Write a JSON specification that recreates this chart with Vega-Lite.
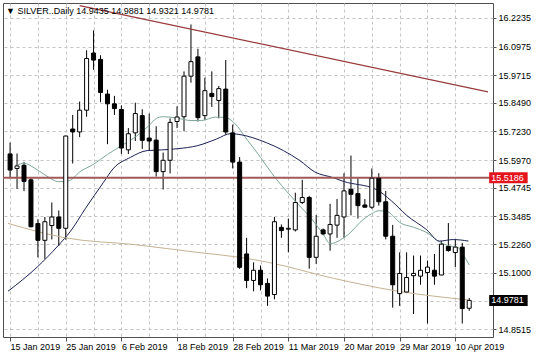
{
  "$schema": "https://vega.github.io/schema/vega-lite/v6.json",
  "width": 490,
  "height": 334,
  "autosize": {"type": "none"},
  "padding": {"left": 3, "top": 3, "right": 43, "bottom": 21},
  "background": "white",
  "config": {
    "view": {"stroke": "#505050", "strokeWidth": 1},
    "font": "Liberation Sans",
    "axis": {"labelFont": "Liberation Sans", "labelFontSize": 9, "labelColor": "#000000", "domain": false, "gridColor": "#c4c4c4", "gridDash": [3, 3], "gridWidth": 1, "tickColor": "#505050", "title": null, "labelOverlap": false, "labelBound": false, "labelFlush": false}
  },
  "title": {"text": "▼ SILVER..Daily  14.9435 14.9881 14.9321 14.9781", "anchor": "start", "frame": "group", "offset": -13, "dx": 3, "fontSize": 9, "fontWeight": "normal", "font": "Liberation Sans", "color": "#000000"},
  "datasets": {
    "bars": [
      {"i":0,"date":"2019-01-15","open":15.624,"high":15.674,"low":15.519,"close":15.553},
      {"i":1,"date":"2019-01-16","open":15.560,"high":15.626,"low":15.470,"close":15.571},
      {"i":2,"date":"2019-01-17","open":15.574,"high":15.589,"low":15.460,"close":15.503},
      {"i":3,"date":"2019-01-18","open":15.510,"high":15.517,"low":15.300,"close":15.303},
      {"i":4,"date":"2019-01-21","open":15.317,"high":15.336,"low":15.168,"close":15.243},
      {"i":5,"date":"2019-01-22","open":15.243,"high":15.346,"low":15.161,"close":15.325},
      {"i":6,"date":"2019-01-23","open":15.308,"high":15.410,"low":15.247,"close":15.346},
      {"i":7,"date":"2019-01-24","open":15.346,"high":15.375,"low":15.218,"close":15.296},
      {"i":8,"date":"2019-01-25","open":15.296,"high":15.705,"low":15.246,"close":15.703},
      {"i":9,"date":"2019-01-28","open":15.734,"high":15.796,"low":15.582,"close":15.721},
      {"i":10,"date":"2019-01-29","open":15.721,"high":15.855,"low":15.698,"close":15.817},
      {"i":11,"date":"2019-01-30","open":15.817,"high":16.081,"low":15.788,"close":16.045},
      {"i":12,"date":"2019-01-31","open":16.069,"high":16.169,"low":15.995,"close":16.038},
      {"i":13,"date":"2019-02-01","open":16.041,"high":16.059,"low":15.852,"close":15.895},
      {"i":14,"date":"2019-02-04","open":15.888,"high":15.907,"low":15.667,"close":15.845},
      {"i":15,"date":"2019-02-05","open":15.845,"high":15.880,"low":15.796,"close":15.824},
      {"i":16,"date":"2019-02-06","open":15.820,"high":15.838,"low":15.624,"close":15.650},
      {"i":17,"date":"2019-02-07","open":15.642,"high":15.738,"low":15.624,"close":15.713},
      {"i":18,"date":"2019-02-08","open":15.717,"high":15.850,"low":15.681,"close":15.802},
      {"i":19,"date":"2019-02-11","open":15.793,"high":15.821,"low":15.646,"close":15.684},
      {"i":20,"date":"2019-02-12","open":15.694,"high":15.802,"low":15.639,"close":15.681},
      {"i":21,"date":"2019-02-13","open":15.685,"high":15.746,"low":15.524,"close":15.546},
      {"i":22,"date":"2019-02-14","open":15.546,"high":15.630,"low":15.467,"close":15.596},
      {"i":23,"date":"2019-02-15","open":15.596,"high":15.781,"low":15.538,"close":15.763},
      {"i":24,"date":"2019-02-18","open":15.767,"high":15.834,"low":15.738,"close":15.787},
      {"i":25,"date":"2019-02-19","open":15.788,"high":15.988,"low":15.724,"close":15.967},
      {"i":26,"date":"2019-02-20","open":15.967,"high":16.195,"low":15.938,"close":16.031},
      {"i":27,"date":"2019-02-21","open":16.052,"high":16.088,"low":15.767,"close":15.784},
      {"i":28,"date":"2019-02-22","open":15.793,"high":15.960,"low":15.774,"close":15.903},
      {"i":29,"date":"2019-02-25","open":15.891,"high":15.988,"low":15.831,"close":15.877},
      {"i":30,"date":"2019-02-26","open":15.860,"high":15.924,"low":15.781,"close":15.912},
      {"i":31,"date":"2019-02-27","open":15.910,"high":16.038,"low":15.710,"close":15.721},
      {"i":32,"date":"2019-02-28","open":15.717,"high":15.753,"low":15.560,"close":15.588},
      {"i":33,"date":"2019-03-01","open":15.588,"high":15.610,"low":15.117,"close":15.124},
      {"i":34,"date":"2019-03-04","open":15.183,"high":15.254,"low":15.032,"close":15.066},
      {"i":35,"date":"2019-03-05","open":15.066,"high":15.146,"low":15.018,"close":15.111},
      {"i":36,"date":"2019-03-06","open":15.111,"high":15.132,"low":15.022,"close":15.047},
      {"i":37,"date":"2019-03-07","open":15.053,"high":15.075,"low":14.954,"close":14.997},
      {"i":38,"date":"2019-03-08","open":15.004,"high":15.346,"low":14.983,"close":15.325},
      {"i":39,"date":"2019-03-10","open":15.300,"high":15.313,"low":15.254,"close":15.286},
      {"i":40,"date":"2019-03-11","open":15.292,"high":15.339,"low":15.190,"close":15.296},
      {"i":41,"date":"2019-03-12","open":15.289,"high":15.453,"low":15.282,"close":15.410},
      {"i":42,"date":"2019-03-13","open":15.410,"high":15.510,"low":15.403,"close":15.432},
      {"i":43,"date":"2019-03-14","open":15.432,"high":15.439,"low":15.118,"close":15.168},
      {"i":44,"date":"2019-03-15","open":15.168,"high":15.354,"low":15.139,"close":15.261},
      {"i":45,"date":"2019-03-17","open":15.289,"high":15.295,"low":15.265,"close":15.271},
      {"i":46,"date":"2019-03-18","open":15.271,"high":15.404,"low":15.197,"close":15.313},
      {"i":47,"date":"2019-03-19","open":15.310,"high":15.425,"low":15.254,"close":15.353},
      {"i":48,"date":"2019-03-20","open":15.346,"high":15.539,"low":15.254,"close":15.461},
      {"i":49,"date":"2019-03-21","open":15.468,"high":15.617,"low":15.353,"close":15.446},
      {"i":50,"date":"2019-03-22","open":15.449,"high":15.517,"low":15.339,"close":15.396},
      {"i":51,"date":"2019-03-24","open":15.399,"high":15.425,"low":15.389,"close":15.389},
      {"i":52,"date":"2019-03-25","open":15.389,"high":15.560,"low":15.382,"close":15.517},
      {"i":53,"date":"2019-03-26","open":15.517,"high":15.539,"low":15.396,"close":15.413},
      {"i":54,"date":"2019-03-27","open":15.413,"high":15.461,"low":15.247,"close":15.261},
      {"i":55,"date":"2019-03-28","open":15.261,"high":15.311,"low":14.946,"close":15.047},
      {"i":56,"date":"2019-03-29","open":15.008,"high":15.190,"low":14.954,"close":15.097},
      {"i":57,"date":"2019-04-01","open":15.015,"high":15.190,"low":15.010,"close":15.079},
      {"i":58,"date":"2019-04-02","open":15.087,"high":15.176,"low":14.918,"close":15.097},
      {"i":59,"date":"2019-04-03","open":15.085,"high":15.176,"low":15.047,"close":15.111},
      {"i":60,"date":"2019-04-04","open":15.101,"high":15.154,"low":14.876,"close":15.125},
      {"i":61,"date":"2019-04-05","open":15.111,"high":15.183,"low":15.047,"close":15.085},
      {"i":62,"date":"2019-04-08","open":15.090,"high":15.240,"low":15.090,"close":15.226},
      {"i":63,"date":"2019-04-09","open":15.216,"high":15.319,"low":15.193,"close":15.198},
      {"i":64,"date":"2019-04-10","open":15.189,"high":15.247,"low":15.125,"close":15.213},
      {"i":65,"date":"2019-04-11","open":15.213,"high":15.232,"low":14.876,"close":14.942},
      {"i":66,"date":"2019-04-12","open":14.9435,"high":14.9881,"low":14.9321,"close":14.9781}
    ],
    "ma": [
      {"ma":"fast","i":1,"price":15.5745},{"ma":"fast","i":2,"price":15.5831},{"ma":"fast","i":3.5,"price":15.5617},{"ma":"fast","i":5,"price":15.5317},{"ma":"fast","i":7,"price":15.5018},{"ma":"fast","i":8.5,"price":15.5061},{"ma":"fast","i":10,"price":15.5446},{"ma":"fast","i":12,"price":15.5788},{"ma":"fast","i":14,"price":15.6216},{"ma":"fast","i":16,"price":15.6601},{"ma":"fast","i":18,"price":15.6986},{"ma":"fast","i":20,"price":15.7499},{"ma":"fast","i":21,"price":15.7799},{"ma":"fast","i":22,"price":15.7884},{"ma":"fast","i":24,"price":15.782},{"ma":"fast","i":26,"price":15.7713},{"ma":"fast","i":27.5,"price":15.7713},{"ma":"fast","i":29.5,"price":15.7863},{"ma":"fast","i":31,"price":15.7842},{"ma":"fast","i":32.3,"price":15.7585},{"ma":"fast","i":34,"price":15.69},{"ma":"fast","i":36,"price":15.6087},{"ma":"fast","i":38,"price":15.5232},{"ma":"fast","i":40,"price":15.4505},{"ma":"fast","i":41.5,"price":15.3991},{"ma":"fast","i":43.3,"price":15.3392},{"ma":"fast","i":45,"price":15.2708},{"ma":"fast","i":46,"price":15.228},{"ma":"fast","i":47.5,"price":15.2451},{"ma":"fast","i":49,"price":15.2793},{"ma":"fast","i":50.3,"price":15.3221},{"ma":"fast","i":52,"price":15.3606},{"ma":"fast","i":53,"price":15.3735},{"ma":"fast","i":54.3,"price":15.3692},{"ma":"fast","i":55,"price":15.3521},{"ma":"fast","i":56,"price":15.3221},{"ma":"fast","i":58,"price":15.3007},{"ma":"fast","i":60,"price":15.2751},{"ma":"fast","i":61.7,"price":15.2366},{"ma":"fast","i":63,"price":15.2194},{"ma":"fast","i":64.4,"price":15.2109},{"ma":"fast","i":65.2,"price":15.1767},{"ma":"fast","i":66,"price":15.1339},
      {"ma":"slow","i":-0.3,"price":15.0184},{"ma":"slow","i":3.9,"price":15.1253},{"ma":"slow","i":6.9,"price":15.2194},{"ma":"slow","i":8.7,"price":15.2836},{"ma":"slow","i":10.8,"price":15.382},{"ma":"slow","i":13.4,"price":15.4975},{"ma":"slow","i":14.9,"price":15.5617},{"ma":"slow","i":17.3,"price":15.6087},{"ma":"slow","i":19.7,"price":15.6387},{"ma":"slow","i":21.8,"price":15.6417},{"ma":"slow","i":24.1,"price":15.6472},{"ma":"slow","i":26.9,"price":15.6601},{"ma":"slow","i":29.7,"price":15.69},{"ma":"slow","i":31.7,"price":15.7136},{"ma":"slow","i":32.9,"price":15.7101},{"ma":"slow","i":36.9,"price":15.6729},{"ma":"slow","i":39.3,"price":15.6387},{"ma":"slow","i":41.6,"price":15.5959},{"ma":"slow","i":43.8,"price":15.5446},{"ma":"slow","i":46.5,"price":15.5189},{"ma":"slow","i":47.9,"price":15.5031},{"ma":"slow","i":52.6,"price":15.4676},{"ma":"slow","i":54.8,"price":15.4175},{"ma":"slow","i":57,"price":15.3534},{"ma":"slow","i":59.9,"price":15.2892},{"ma":"slow","i":61.7,"price":15.2396},{"ma":"slow","i":63.7,"price":15.2464},{"ma":"slow","i":65.9,"price":15.2396},
      {"ma":"long","i":-0.3,"price":15.3178},{"ma":"long","i":8,"price":15.2537},{"ma":"long","i":18,"price":15.2237},{"ma":"long","i":27,"price":15.1895},{"ma":"long","i":33,"price":15.1681},{"ma":"long","i":37,"price":15.1467},{"ma":"long","i":46.5,"price":15.0753},{"ma":"long","i":55.8,"price":15.0184},{"ma":"long","i":66,"price":14.9799}
    ],
    "trend": [
      {"i":10,"price":16.278},
      {"i":68.7,"price":15.898}
    ],
    "tags": [
      {"kind":"level","price":15.5186},
      {"kind":"bid","price":14.9781}
    ]
  },
  "layer": [
    {
      "data": {"name": "bars"},
      "mark": {"type": "rule", "color": "#000000", "strokeWidth": 1},
      "encoding": {
        "x": {"field": "i", "type": "quantitative",
          "scale": {"domain": [-0.3, 68.7], "nice": false, "zero": false},
          "axis": {"values": [0,4,8,12,16,20,24,28,32,36,40,44,48,52,56,60,64], "tickCount": 40, "grid": true, "labelAlign": "left", "labelPadding": 1, "tickSize": 4, "labelFlush": false, "labelOverlap": false,
            "tickOpacity": {"condition": {"test": "datum.value % 8 == 0", "value": 1}, "value": 0},
            "labelExpr": "datum.value % 8 == 0 ? ['15 Jan 2019','25 Jan 2019','6 Feb 2019','18 Feb 2019','28 Feb 2019','11 Mar 2019','20 Mar 2019','29 Mar 2019','10 Apr 2019'][datum.value / 8] : ''"}},
        "y": {"field": "low", "type": "quantitative",
          "scale": {"domain": [14.8387, 16.2676], "nice": false, "zero": false},
          "axis": {"orient": "right", "values": [16.2235, 16.0975, 15.9715, 15.849, 15.723, 15.597, 15.4745, 15.3485, 15.226, 15.1, 14.9755, 14.8515], "tickCount": 40, "grid": true, "tickSize": 3, "labelPadding": 2, "labelFlush": false, "labelOverlap": false,
            "labelExpr": "(datum.value > 14.97 && datum.value < 14.98) ? '' : format(datum.value, '.4f')"}},
        "y2": {"field": "high"}
      }
    },
    {
      "data": {"name": "ma"},
      "mark": {"type": "line", "strokeWidth": 1, "interpolate": "monotone", "clip": true},
      "encoding": {
        "x": {"field": "i", "type": "quantitative"},
        "y": {"field": "price", "type": "quantitative"},
        "color": {"field": "ma", "type": "nominal", "scale": {"domain": ["fast", "slow", "long"], "range": ["#7da897", "#1c2156", "#c4b392"]}, "legend": null}
      }
    },
    {
      "data": {"name": "trend"},
      "mark": {"type": "line", "color": "#9a3a3a", "strokeWidth": 1.2, "clip": true},
      "encoding": {
        "x": {"field": "i", "type": "quantitative"},
        "y": {"field": "price", "type": "quantitative"}
      }
    },
    {
      "data": {"name": "tags"},
      "transform": [{"filter": "datum.kind == 'level'"}],
      "mark": {"type": "rule", "color": "#a05a58", "strokeWidth": 2},
      "encoding": {
        "y": {"field": "price", "type": "quantitative"}
      }
    },
    {
      "data": {"name": "bars"},
      "mark": {"type": "bar", "size": 4, "stroke": "#000000", "strokeWidth": 1, "orient": "vertical"},
      "encoding": {
        "x": {"field": "i", "type": "quantitative"},
        "y": {"field": "open", "type": "quantitative"},
        "y2": {"field": "close"},
        "fill": {"condition": {"test": "datum.close > datum.open", "value": "#ffffff"}, "value": "#000000"}
      }
    },
    {
      "data": {"name": "tags"},
      "mark": {"type": "bar", "size": 11, "orient": "horizontal"},
      "encoding": {
        "x": {"datum": 68.87, "type": "quantitative"},
        "x2": {"datum": 74.4},
        "y": {"field": "price", "type": "quantitative"},
        "fill": {"condition": {"test": "datum.kind == 'level'", "value": "#e3141b"}, "value": "#000000"}
      }
    },
    {
      "data": {"name": "tags"},
      "mark": {"type": "text", "align": "left", "baseline": "middle", "dx": 2, "fontSize": 9, "font": "Liberation Sans", "color": "#ffffff"},
      "encoding": {
        "x": {"datum": 68.87, "type": "quantitative"},
        "y": {"field": "price", "type": "quantitative"},
        "text": {"field": "price", "type": "quantitative", "format": ".4f"}
      }
    }
  ]
}
